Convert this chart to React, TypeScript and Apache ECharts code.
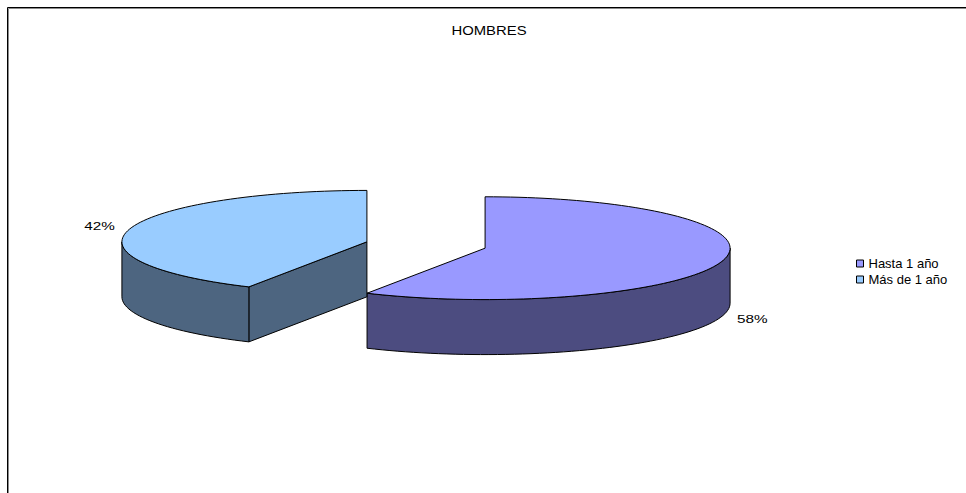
import React, { useEffect, useRef } from "react";
import * as echarts from "echarts";

// Chart content
const chartTitle = "HOMBRES";
const categories = ["Hasta 1 año", "Más de 1 año"];
const values = [58, 42];
const topColors = ["#9999FF", "#99CCFF"];
const sideColors = ["#4C4C80", "#4D6580"];

// 3D pie geometry (pixels)
const PIE_CX = 426;
const PIE_CY = 245;
const RX = 245;
const RY = 51.4;
const DEPTH = 55;
const EXPLODE = 61;
const FONT = "Liberation Sans, Arial, sans-serif";

const rad = (d: number) => (d * Math.PI) / 180;

function arcPoints(cx: number, cy: number, a0: number, a1: number, dy: number) {
  const pts: number[][] = [];
  const steps = Math.max(2, Math.ceil(Math.abs(a1 - a0) / 2));
  for (let k = 0; k <= steps; k++) {
    const a = a0 + ((a1 - a0) * k) / steps;
    pts.push([cx + RX * Math.sin(rad(a)), cy - RY * Math.cos(rad(a)) + dy]);
  }
  return pts;
}

function renderSlice(index: number) {
  return (params: any, api: any) => {
    const total = values.reduce((s, v) => s + v, 0);
    const v = api.value(0);
    let start = 0;
    for (let k = 0; k < index; k++) start += values[k];
    const a0 = (start / total) * 360;
    const a1 = ((start + v) / total) * 360;
    const mid = (a0 + a1) / 2;
    const cx = PIE_CX + EXPLODE * Math.sin(rad(mid));
    const cy = PIE_CY - EXPLODE * (RY / RX) * Math.cos(rad(mid));
    const line = { stroke: "#000", lineWidth: 1, lineJoin: "round" };
    const children: any[] = [];

    const edge = (a: number) => [cx + RX * Math.sin(rad(a)), cy - RY * Math.cos(rad(a))];

    // radial walls facing the viewer
    if (Math.sin(rad(a0)) < -1e-6) {
      const p = edge(a0);
      children.push({
        type: "polygon",
        shape: { points: [[cx, cy], p, [p[0], p[1] + DEPTH], [cx, cy + DEPTH]] },
        style: { fill: sideColors[index], ...line },
      });
    }
    if (Math.sin(rad(a1)) > 1e-6) {
      const p = edge(a1);
      children.push({
        type: "polygon",
        shape: { points: [[cx, cy], p, [p[0], p[1] + DEPTH], [cx, cy + DEPTH]] },
        style: { fill: sideColors[index], ...line },
      });
    }

    // outer rim, front half only
    const s = Math.max(a0, 90);
    const e = Math.min(a1, 270);
    if (e > s) {
      const topArc = arcPoints(cx, cy, s, e, 0);
      const botArc = arcPoints(cx, cy, s, e, DEPTH).reverse();
      children.push({
        type: "polygon",
        shape: { points: topArc.concat(botArc) },
        style: { fill: sideColors[index], ...line },
      });
    }

    // top face
    children.push({
      type: "polygon",
      shape: { points: [[cx, cy]].concat(arcPoints(cx, cy, a0, a1, 0)) },
      style: { fill: topColors[index], ...line },
    });

    // percentage label
    const cm = Math.cos(rad(mid));
    const lx = cx + (RX + 31) * Math.sin(rad(mid));
    const ly = cy - (RY + 11) * cm + (cm < 0 ? DEPTH : 0);
    children.push({
      type: "text",
      x: lx,
      y: ly,
      scaleX: 1.33,
      style: {
        text: Math.round((v / total) * 100) + "%",
        fill: "#000",
        fontSize: 11.5,
        fontFamily: FONT,
        align: "center",
        verticalAlign: "middle",
      },
    });

    return { type: "group", children };
  };
}

export default function App() {
  const ref = useRef<HTMLDivElement>(null);

  useEffect(() => {
    document.body.style.margin = "0";
    document.body.style.overflow = "hidden";
    if (!ref.current) return;
    const chart = echarts.init(ref.current, undefined, { renderer: "svg" });
    chart.setOption({
      animation: false,
      backgroundColor: "#fff",
      legend: {
        orient: "vertical",
        left: 856,
        top: 257,
        padding: 0,
        itemWidth: 7,
        itemHeight: 7,
        itemGap: 3,
        icon: "rect",
        itemStyle: { borderColor: "#000", borderWidth: 1 },
        textStyle: { fontSize: 13, fontFamily: FONT, color: "#000" },
        data: categories,
      },
      graphic: [
        {
          type: "rect",
          shape: { x: 7.5, y: 7.5, width: 2000, height: 2000 },
          style: { fill: "none", stroke: "#000", lineWidth: 1 },
          silent: true,
        },
        {
          type: "rect",
          shape: { x: 8.5, y: 8.5, width: 2000, height: 2000 },
          style: { fill: "none", stroke: "#8a8a8a", lineWidth: 1 },
          silent: true,
        },
        {
          type: "text",
          x: 489,
          y: 30.5,
          scaleX: 1.19,
          style: {
            text: chartTitle,
            fill: "#000",
            fontSize: 12.5,
            fontFamily: FONT,
            align: "center",
            verticalAlign: "middle",
          },
        },
      ],
      series: categories.map((name, i) => ({
        type: "custom",
        name,
        coordinateSystem: "none",
        itemStyle: { color: topColors[i], borderColor: "#000", borderWidth: 1 },
        renderItem: renderSlice(i),
        data: [[values[i]]],
      })),
    });
    return () => chart.dispose();
  }, []);

  return <div ref={ref} style={{ width: 966, height: 493 }} />;
}
